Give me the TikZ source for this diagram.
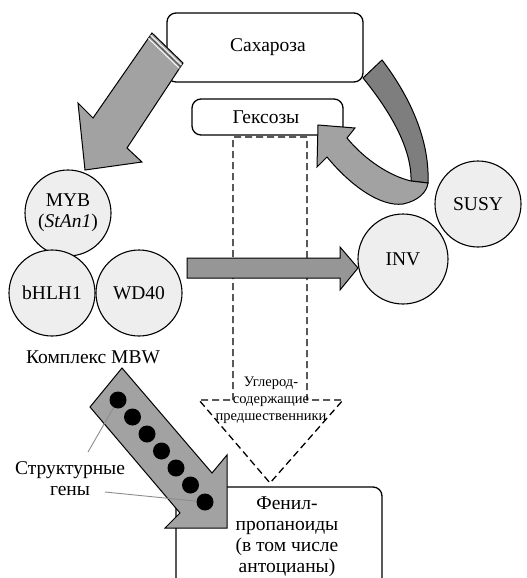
\documentclass[tikz,border=0pt]{standalone}
\usepackage{fontspec}
\setmainfont{Liberation Serif}
\definecolor{circ}{HTML}{EEEEEE}
\definecolor{arrgray}{HTML}{A2A2A2}
\definecolor{hgray}{HTML}{969696}
\definecolor{darkband}{HTML}{7E7E7E}
\begin{document}
\begin{tikzpicture}[x=1pt,y=-1pt,
  every node/.style={font=\fontsize{19.5}{21}\selectfont, inner sep=0pt},
  box/.style={draw, line width=1.3pt, rounded corners=9pt},
  ball/.style={draw, line width=1.1pt, fill=circ, circle, minimum size=86pt},
  blockarrow/.style={draw, line width=1pt, fill=arrgray, line join=miter},
  gene/.style={circle, fill=black, minimum size=17pt},
  pointer/.style={draw=gray!90, line width=0.9pt},
  dashline/.style={dash pattern=on 7pt off 4pt, line width=1.3pt}]
\path[use as bounding box, clip] (0,0) rectangle (527,578);

% boxes
\node[box, minimum width=196pt, minimum height=69pt] (sach) at (265,47.5) {};
\node (sachtext) at (268,47) {Сахароза};
\node[box, minimum width=151pt, minimum height=36pt] (hex) at (267.5,117) {};
\node (hextext) at (266,117) {Гексозы};
\draw[box] (176,487) rectangle (382,600);
\node[align=center] (phen) at (287,537) {Фенил-\\пропаноиды\\(в том числе\\антоцианы)};

% dashed block arrow
\draw[dashline] (233,400) -- (233,137) -- (307,137) -- (307,400) -- (343,400) -- (270,483) -- (199,400) -- cycle;
\node[align=center, font=\fontsize{14.5}{17}\selectfont] (carb) at (271,400) {Углерод-\\содержащие\\предшественники};

% circles
\node[ball, align=center] (myb) at (68,213) {MYB\\(\textit{StAn1})};
\node[ball] (bhlh) at (52,293) {bHLH1};
\node[ball] (wd) at (139,293) {WD40};
\node[ball] (susy) at (478,204) {SUSY};
\node[ball, minimum size=90pt] (inv) at (403,259) {INV};
\node (mbw) at (93,357) {Комплекс MBW};

% arrow from sucrose to MBW
\draw[blockarrow] (152,33) -- (183,63) -- (127,148) -- (142,162) -- (85,170) -- (78,103) -- (93,118) -- cycle;
\draw[white, line width=0.9pt] (150.6,35.1) -- (181.6,65.1);
\draw[black!70, line width=0.8pt] (149.5,36.7) -- (180.5,66.7);
\draw[white, line width=0.9pt] (148.4,38.4) -- (179.4,68.4);

% horizontal arrow to INV
\draw[blockarrow, fill=hgray] (187,258) -- (340,258) -- (340,247) -- (358,268) -- (340,290) -- (340,278) -- (187,278) -- cycle;

% curved ribbon arrow from sucrose to hexoses
\draw[blockarrow, fill=darkband] (363,78) .. controls (385,105) and (412,145) .. (411,181) -- (428,183) .. controls (430,135) and (405,90) .. (382,60) -- cycle;
\draw[blockarrow] (347,138) -- (355,128) -- (318,125) -- (317,167) -- (327,157) .. controls (350,185) and (380,207) .. (403,204) .. controls (418,201) and (427,192) .. (428,183) -- (411,181) .. controls (390,176) and (365,160) .. (347,138) -- cycle;

% arrow from MBW to phenylpropanoids with genes
\draw[blockarrow] (122,368) -- (212,473) -- (227,455) -- (227,528) -- (165,528) -- (180,513) -- (90,407) -- cycle;
\node[gene] (d1) at (118,400) {};
\node[gene] (d2) at (132.5,417) {};
\node[gene] (d3) at (147,434) {};
\node[gene] (d4) at (161.5,451) {};
\node[gene] (d5) at (176,468) {};
\node[gene] (d6) at (190.5,485) {};
\node[gene] (d7) at (205,502) {};

% labels for genes
\node[align=center] (sg) at (70,479) {Структурные\\гены};
\coordinate (p1) at (88,452);
\coordinate (p2) at (105,492);
\draw[pointer] (p1) -- (d1);
\draw[pointer] (p2) -- (d7);
\end{tikzpicture}
\end{document}
